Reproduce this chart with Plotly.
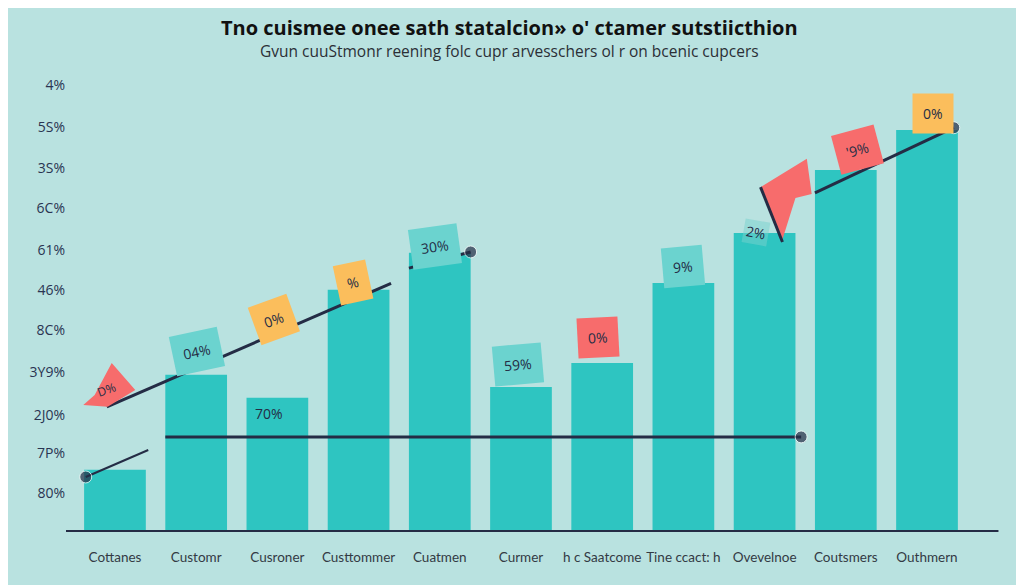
import plotly.graph_objects as go

# ---------------- data ----------------
categories = ["Cottanes", "Customr", "Cusroner", "Custtommer", "Cuatmen", "Curmer",
              "h c Saatcome", "Tine ccact: h", "Ovevelnoe", "Coutsmers", "Outhmern"]
values = [13.6, 34.7, 29.6, 53.6, 61.8, 32.0, 37.3, 55.1, 66.2, 80.2, 89.1]

ytick_vals = [8.4, 17.3, 25.8, 35.3, 44.7, 53.6, 62.4, 71.8, 80.7, 89.8, 99.1]
ytick_text = ["80%", "7P%", "2J0%", "3Y9%", "8C%", "46%", "61%", "6C%", "3S%", "5S%", "4%"]

# trend / marker lines (category index, value)
rise_x = [-0.1, 3.4]
rise_y = [27.6, 55.0]
step_x = [3.62, 4.38]
step_y = [58.4, 62.0]
flat_x = [0.62, 8.45]
flat_y = [20.9, 20.9]
end_x = [8.62, 10.33]
end_y = [75.1, 89.6]
start_x = [-0.36, 0.41]
start_y = [12.0, 18.0]

# flag polygons
arrow_x = [8.52, 8.58, 8.38, 8.21, 7.95, 8.52]
arrow_y = [82.7, 74.9, 74.0, 64.2, 76.4, 82.7]
pole_x = [7.95, 8.22]
pole_y = [76.4, 64.2]
pennant_x = [-0.04, 0.25, -0.09, -0.39, -0.25, -0.04]
pennant_y = [37.3, 31.3, 27.6, 28.0, 30.2, 37.3]

# tag labels: text, x, y, colour, angle
tag_text = ["04%", "0%", "%", "70%", "30%", "59%", "0%", "9%", "2%", "'9%", "0%"]
tag_x = [1.01, 1.96, 2.93, 1.9, 3.94, 4.96, 5.95, 7.0, 7.9, 9.15, 10.07]
tag_y = [39.8, 46.9, 55.3, 26.2, 63.1, 36.9, 42.9, 58.7, 66.4, 84.7, 92.7]
tag_kind = ["teal", "yellow", "yellow", "none", "teal", "teal", "red", "teal", "faint", "red", "yellow"]
tag_angle = [-12, -20, -12, 0, -8, -5, -3, -5, 10, -15, 0]

# ---------------- style ----------------
BG = "#b9e2e0"
BAR = "#2ec5c1"
DARK = "#242c45"
TEAL_TAG = "#6bd3cf"
RED = "#f76c6c"
YELLOW = "#fbbe5c"
FONT = "Open Sans"

fig = go.Figure()
fig.add_trace(go.Bar(x=list(range(len(categories))), y=values, width=0.76,
                     marker=dict(color=BAR, line=dict(width=0)), hoverinfo="skip"))

def line(xs, ys, dot_end=False, dot_start=False, w=3):
    sizes = [12 if dot_start else 0, 12 if dot_end else 0]
    fig.add_trace(go.Scatter(x=xs, y=ys, mode="lines+markers",
                             line=dict(color=DARK, width=w),
                             marker=dict(size=sizes, color=DARK), hoverinfo="skip"))

line(rise_x, rise_y)
line(step_x, step_y, dot_end=True)
line(flat_x, flat_y, dot_end=True)
line(end_x, end_y, dot_end=True)
line(start_x, start_y, dot_start=True, w=2)

fig.add_trace(go.Scatter(x=arrow_x, y=arrow_y, fill="toself", fillcolor=RED,
                         mode="lines", line=dict(width=0, color=RED), hoverinfo="skip"))
fig.add_trace(go.Scatter(x=pole_x, y=pole_y, mode="lines",
                         line=dict(color=DARK, width=3), hoverinfo="skip"))
fig.add_trace(go.Scatter(x=pennant_x, y=pennant_y, fill="toself", fillcolor=RED,
                         mode="lines", line=dict(width=0, color=RED), hoverinfo="skip"))

colors = {"teal": TEAL_TAG, "yellow": YELLOW, "red": RED, "none": "rgba(0,0,0,0)",
          "faint": "rgba(120,210,206,0.5)"}
for t, x, y, k, a in zip(tag_text, tag_x, tag_y, tag_kind, tag_angle):
    fig.add_annotation(x=x, y=y, text=t, showarrow=False, textangle=a,
                       bgcolor=colors[k], borderpad=10 if k not in ("none", "faint") else 2,
                       font=dict(family=FONT, size=14, color=DARK))
fig.add_annotation(x=-0.1, y=31.5, text="D%", showarrow=False, textangle=-20,
                   font=dict(family=FONT, size=12, color=DARK))

# baseline
fig.add_shape(type="line", x0=-0.68, x1=10.88, y0=0, y1=0,
              line=dict(color=DARK, width=2))

fig.update_layout(
    width=1024, height=585,
    margin=dict(l=58, r=0, t=0, b=46),
    paper_bgcolor=BG, plot_bgcolor=BG,
    showlegend=False,
    bargap=0.24,
    xaxis=dict(range=[-0.603, 11.293], tickmode="array",
               tickvals=list(range(len(categories))), ticktext=categories,
               showgrid=False, zeroline=False, showline=False, ticks="",
               tickangle=0, automargin=False,
               tickfont=dict(family="Lato", size=13.5, color="#333a44")),
    yaxis=dict(range=[-3.56, 116.2], tickmode="array", tickvals=ytick_vals,
               ticktext=ytick_text, showgrid=False, zeroline=False, showline=False,
               ticks="", automargin=False,
               tickfont=dict(family=FONT, size=14, color="#2a3452")),
)

fig.add_annotation(xref="paper", yref="paper", x=0.4586, y=1 - 20 / 539, yanchor="middle",
                   text="<b>Tno cuismee onee sath statalcion» o' ctamer sutstiicthion</b>",
                   showarrow=False, font=dict(family=FONT, size=20, color="#111111"))
fig.add_annotation(xref="paper", yref="paper", x=0.4586, y=1 - 43 / 539, yanchor="middle",
                   text="Gvun cuuStmonr reening folc cupr arvesschers ol r on bcenic cupcers",
                   showarrow=False, font=dict(family=FONT, size=15.5, color="#2b2f36"))

fig.write_html("out.html")
